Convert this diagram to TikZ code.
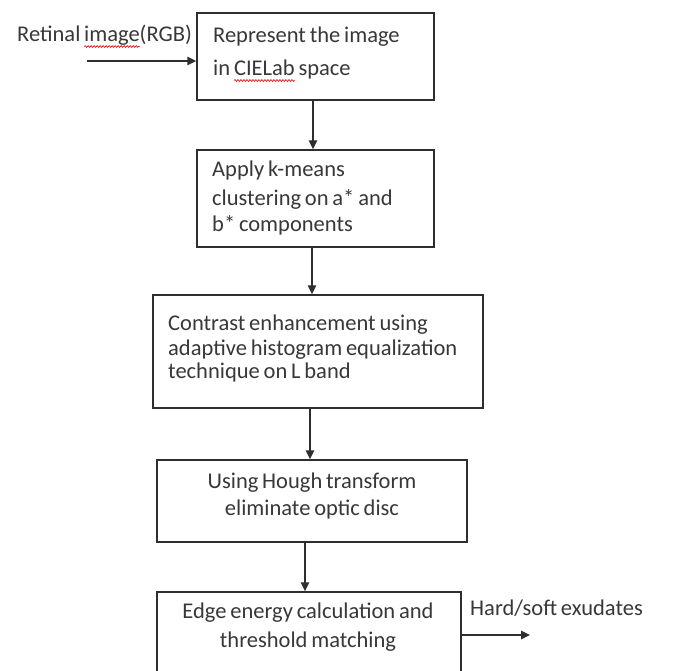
\documentclass[tikz,border=0pt]{standalone}
\usepackage{fontspec}
\setmainfont{Carlito}
\usetikzlibrary{arrows.meta,decorations.pathmorphing}
\definecolor{ink}{HTML}{383838}
\definecolor{edge}{HTML}{2E2E2E}
\newcommand\tightfont{\fontsize{22.5}{27}\selectfont\spaceskip=0.17em plus 0.05em\relax}
\newcommand\redwave[1]{\tikz[baseline=(w.base)]{\node[inner sep=0pt, outer sep=0pt] (w) {#1};
  \draw[red!85!black, line width=0.6pt, overlay, decorate, decoration={snake, amplitude=0.9pt, segment length=3pt}] ([yshift=-4.5pt]w.base west) -- ([yshift=-4.5pt]w.base east);}}
\tikzset{
  box/.style={draw=edge, line width=1.4pt, rectangle, inner sep=0pt},
  txt/.style={inner sep=0pt, text=ink, font=\tightfont},
  arr/.style={draw=edge, line width=1.4pt, -{Triangle[length=9pt,width=8.5pt]}},
}
\begin{document}
\begin{tikzpicture}[x=1pt,y=-1pt]
\useasboundingbox (0,0) rectangle (674,671);
\clip (0,0) rectangle (674,671);
\fill[white] (0,0) rectangle (674,671);
% boxes
\node[box, minimum width=237pt, minimum height=87pt] (b1) at (315.5,56.5) {};
\node[box, minimum width=237pt, minimum height=97pt] (b2) at (315.5,198.5) {};
\node[box, minimum width=330pt, minimum height=113pt] (b3) at (318,351.5) {};
\node[box, minimum width=310pt, minimum height=82pt] (b4) at (312,501) {};
\node[box, minimum width=304pt, minimum height=110pt] (b5) at (309,647) {};
% texts
\node[txt, anchor=base west] (t0) at (17,42) {Retinal \redwave{image}(RGB)};
\node[txt, anchor=base west] (t1a) at (213,43) {Represent the image};
\node[txt, anchor=base west] (t1b) at (213,76) {in \redwave{CIELab} space};
\node[txt, anchor=base west] (t2a) at (212,177) {Apply k-means};
\node[txt, anchor=base west] (t2b) at (212,205) {clustering on a* and};
\node[txt, anchor=base west] (t2c) at (212,231) {b* components};
\node[txt, anchor=base west] (t3a) at (168,330) {Contrast enhancement using};
\node[txt, anchor=base west] (t3b) at (168,355) {adaptive histogram equalization};
\node[txt, anchor=base west] (t3c) at (168,378) {technique on L band};
\node[txt, anchor=base] (t4a) at (312,488) {Using Hough transform};
\node[txt, anchor=base] (t4b) at (312,515) {eliminate optic disc};
\node[txt, anchor=base] (t5a) at (308,618) {Edge energy calculation and};
\node[txt, anchor=base] (t5b) at (308,647) {threshold matching};
\node[txt, anchor=base west] (t6) at (470,615) {Hard/soft exudates};
% connectors
\coordinate (in) at (87,61);
\coordinate (out) at (530,635);
\draw[arr] (in) -- (in -| b1.west);
\draw[arr] (b1.south -| 313,0) -- (b2.north -| 313,0);
\draw[arr] (b2.south -| 312,0) -- (b3.north -| 312,0);
\draw[arr] (b3.south -| 310,0) -- (b4.north -| 310,0);
\draw[arr] (b4.south -| 305,0) -- (b5.north -| 305,0);
\draw[arr] (b5.east |- out) -- (out);
\end{tikzpicture}
\end{document}
